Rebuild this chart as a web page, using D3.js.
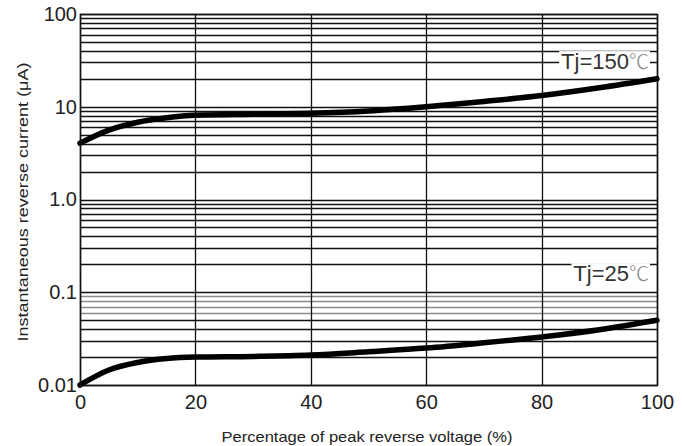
<!DOCTYPE html>
<meta charset='utf-8'>
<style>
    body { margin: 0; background: #fff; }
    text { font-family: 'Liberation Sans', Arial, sans-serif; }
</style>
<body>
<div id='chart'></div>
<script src='https://d3js.org/d3.v7.min.js'></script>
<script>
    // data
    const voltagePct = [0, 5, 10, 15, 20, 30, 40, 50, 60, 70, 80, 90, 100];
    const current150 = [4.05, 5.6, 6.8, 7.6, 8.1, 8.3, 8.5, 9.0, 10.0, 11.4, 13.2, 16.0, 20.0];
    const current25 = [0.0100, 0.0145, 0.0175, 0.0193, 0.0200, 0.0203, 0.0210, 0.0228, 0.0250, 0.0285, 0.0330, 0.0395, 0.0500];
    const xTicks = [0, 20, 40, 60, 80, 100];
    const yTicks = [0.01, 0.1, 1, 10, 100];
    const yTickLabels = ['0.01', '0.1', '1.0', '10', '100'];

    const W = 682, H = 446;
    const margin = { top: 14, left: 80, right: 25, bottom: 61 };
    const width = W - margin.left - margin.right,
        height = H - margin.top - margin.bottom;

    const x = d3.scaleLinear().domain( [0, 100] ).range( [0, width] );
    const y = d3.scaleLog().domain( [0.01, 100] ).range( [height, 0] );

    const svg = d3.select( '#chart' ).append( 'svg' )
        .attr( 'width', W ).attr( 'height', H );
    const g = svg.append( 'g' )
        .attr( 'transform', `translate( ${margin.left}, ${margin.top} )` );

    // minor + major horizontal grid (1..9 per decade)
    let hLines = [];
    [0.01, 0.1, 1, 10].forEach( dec => {
        for ( let k = 1; k <= 9; k++ ) hLines.push( dec * k );
    } );
    hLines.push( 100 );

    g.selectAll( '.hgrid' )
        .data( hLines )
        .enter().append( 'line' )
        .attr( 'class', 'hgrid' )
        .attr( 'x1', 0 ).attr( 'x2', width )
        .attr( 'y1', d => Math.round( y( d ) ) + 0.5 )
        .attr( 'y2', d => Math.round( y( d ) ) + 0.5 )
        .style( 'stroke', d => ( d > 0.055 && d < 0.095 ) ? '#8a8a8a' : '#111' )
        .style( 'stroke-width', 1.3 );

    g.selectAll( '.vgrid' )
        .data( xTicks )
        .enter().append( 'line' )
        .attr( 'class', 'vgrid' )
        .attr( 'x1', d => Math.round( x( d ) ) + 0.5 )
        .attr( 'x2', d => Math.round( x( d ) ) + 0.5 )
        .attr( 'y1', 0 ).attr( 'y2', height )
        .style( 'stroke', '#111' )
        .style( 'stroke-width', 1.3 );

    // curves
    const line = d3.line()
        .x( d => x( d[0] ) )
        .y( d => y( d[1] ) )
        .curve( d3.curveMonotoneX );

    [current150, current25].forEach( series => {
        g.append( 'path' )
            .datum( voltagePct.map( ( v, i ) => [v, series[i]] ) )
            .attr( 'd', line )
            .style( 'fill', 'none' )
            .style( 'stroke', '#000' )
            .style( 'stroke-width', 5.5 )
            .style( 'stroke-linecap', 'round' );
    } );

    // curve labels
    const labels = [
        { text: 'Tj=150', at: 30, x: 100, len: 93 },
        { text: 'Tj=25', at: 0.155, x: 100, len: 77 },
    ];
    labels.forEach( l => {
        const t = g.append( 'text' )
            .attr( 'x', x( l.x ) - 8 )
            .attr( 'y', y( l.at ) )
            .attr( 'dy', '0.3em' )
            .style( 'text-anchor', 'end' )
            .style( 'font-size', '22px' )
            .style( 'fill', '#333' );
        t.append( 'tspan' ).text( l.text );
        t.append( 'tspan' )
            .style( 'font-family', "'Noto Sans CJK JP', sans-serif" )
            .style( 'font-size', '20px' )
            .style( 'fill', '#888' )
            .style( 'font-weight', 300 )
            .text( '℃' );
        const bb = t.node().getBBox();
        g.insert( 'rect', 'text' )
            .attr( 'x', bb.x - 2 ).attr( 'y', bb.y + 5 )
            .attr( 'width', bb.width + 3 ).attr( 'height', bb.height - 8 )
            .style( 'fill', '#fff' );
    } );

    // frame
    g.append( 'rect' )
        .attr( 'x', 0.5 ).attr( 'y', 0.5 )
        .attr( 'width', width ).attr( 'height', height )
        .style( 'fill', 'none' )
        .style( 'stroke', '#111' )
        .style( 'stroke-width', 1.5 );

    // axes (labels only, grid already drawn)
    const xAxis = d3.axisBottom( x ).tickValues( xTicks ).tickSize( 0 ).tickPadding( 10 );
    const yAxis = d3.axisLeft( y ).tickValues( yTicks ).tickSize( 0 ).tickPadding( 3 )
        .tickFormat( ( d, i ) => yTickLabels[i] );

    const xAxisEl = g.append( 'g' )
        .attr( 'transform', `translate( 0, ${height} )` )
        .call( xAxis );
    const yAxisEl = g.append( 'g' ).call( yAxis );

    [xAxisEl, yAxisEl].forEach( a => {
        a.select( '.domain' ).remove();
        a.selectAll( 'text' )
            .style( 'font-family', "'Liberation Sans', Arial, sans-serif" )
            .style( 'font-size', '20px' )
            .style( 'fill', '#222' );
    } );

    svg.append( 'text' )
        .attr( 'x', 367 )
        .attr( 'y', 442 )
        .attr( 'textLength', 291 )
        .attr( 'lengthAdjust', 'spacingAndGlyphs' )
        .style( 'text-anchor', 'middle' )
        .style( 'font-size', '15px' )
        .style( 'fill', '#222' )
        .text( 'Percentage of peak reverse voltage (%)' );

    svg.append( 'text' )
        .attr( 'transform', `translate( 28, 202 ) rotate( -90 )` )
        .attr( 'textLength', 279 )
        .attr( 'lengthAdjust', 'spacingAndGlyphs' )
        .style( 'text-anchor', 'middle' )
        .style( 'font-size', '15px' )
        .style( 'fill', '#222' )
        .text( 'Instantaneous reverse current (μA)' );
</script>
</body>
